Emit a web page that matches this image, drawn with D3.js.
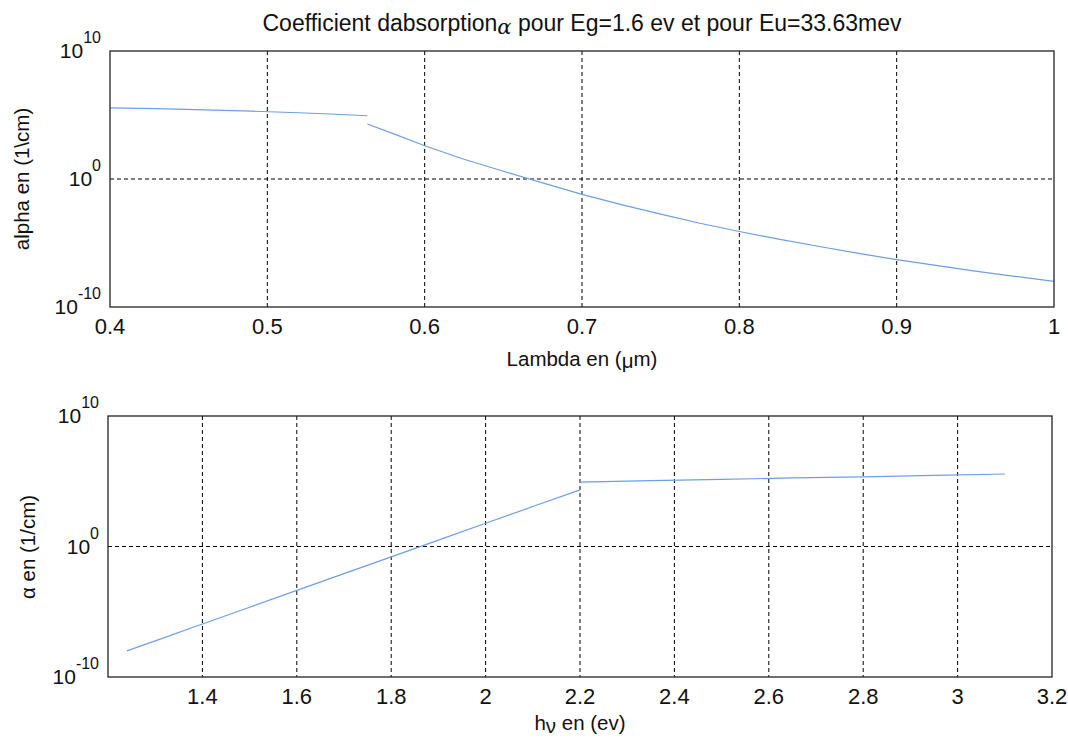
<!DOCTYPE html>
<html><head><meta charset="utf-8">
<script src="https://cdn.jsdelivr.net/npm/d3@7"></script>
<style>body{margin:0;background:#fff}svg{font-family:"Liberation Sans",Arial,sans-serif}</style>
</head><body><svg id="c" width="1068" height="739"></svg>
<script>
// ---- data ----
const lambdaFlat = [0.40, 0.43, 0.46, 0.49, 0.52, 0.54, 0.5636];
const alphaLambdaFlat = [3.6e5, 3.2e5, 2.5e5, 2.0e5, 1.5e5, 1.2e5, 8.7e4];
const lambdaTail = [0.5636, 0.58, 0.60, 0.625, 0.65, 0.675, 0.70, 0.725, 0.75, 0.775, 0.80, 0.825, 0.85, 0.875, 0.90, 0.925, 0.95, 0.975, 1.00];
const alphaLambdaTail = [2.0e4, 3.5e3, 4.0e2, 35, 4.0, 0.5, 6.3e-2, 1.0e-2, 1.8e-3, 3.5e-4, 7.9e-5, 2.0e-5, 5.6e-6, 1.6e-6, 5.0e-7, 1.8e-7, 6.3e-8, 2.5e-8, 1.0e-8];

const energyTail = [1.24, 1.30, 1.40, 1.50, 1.60, 1.70, 1.80, 1.90, 2.00, 2.10, 2.20];
const alphaEnergyTail = [1.0e-8, 5.9e-8, 1.15e-6, 2.2e-5, 4.3e-4, 8.3e-3, 0.16, 3.1, 60, 1.15e3, 2.2e4];
const energyFlat = [2.20, 2.35, 2.50, 2.65, 2.80, 2.95, 3.10];
const alphaEnergyFlat = [8.7e4, 1.1e5, 1.4e5, 1.8e5, 2.2e5, 2.8e5, 3.6e5];

const lambdaTicks = [0.4, 0.5, 0.6, 0.7, 0.8, 0.9, 1];
const lambdaTickLabels = ["0.4", "0.5", "0.6", "0.7", "0.8", "0.9", "1"];
const energyTicks = [1.4, 1.6, 1.8, 2.0, 2.2, 2.4, 2.6, 2.8, 3.0, 3.2];
const energyTickLabels = ["1.4", "1.6", "1.8", "2", "2.2", "2.4", "2.6", "2.8", "3", "3.2"];
const yTicks = [1e-10, 1e0, 1e10];
const yTickExponents = ["-10", "0", "10"];

const titleText = ["Coefficient dabsorption", "α", " pour Eg=1.6 ev et pour Eu=33.63mev"];

// ---- drawing ----
const svg = d3.select("#c");
const lineColor = "#6c9fe4";

function panel(opts) {
  const {left, right, top, bottom, xDomain, xTicks, xLabels, series} = opts;
  const x = d3.scaleLinear().domain(xDomain).range([left, right]);
  const y = d3.scaleLog().domain([1e-10, 1e10]).range([bottom, top]);
  const g = svg.append("g");

  // grid
  g.selectAll("line.vg").data(xTicks.filter(t => x(t) > left + 1 && x(t) < right - 1)).enter()
    .append("line").attr("x1", d => x(d)).attr("x2", d => x(d))
    .attr("y1", top).attr("y2", bottom)
    .attr("stroke", "#000").attr("stroke-width", 1).attr("stroke-dasharray", "4,3");
  g.selectAll("line.hg").data(yTicks.filter(t => y(t) > top + 1 && y(t) < bottom - 1)).enter()
    .append("line").attr("x1", left).attr("x2", right)
    .attr("y1", d => y(d)).attr("y2", d => y(d))
    .attr("stroke", "#000").attr("stroke-width", 1).attr("stroke-dasharray", "4,3");

  // data lines
  const line = d3.line().x(d => x(d[0])).y(d => y(d[1]));
  series.forEach(s => {
    g.append("path").attr("d", line(d3.zip(s[0], s[1])))
      .attr("fill", "none").attr("stroke", lineColor).attr("stroke-width", 1.2);
  });

  // box
  g.append("rect").attr("x", left).attr("y", top).attr("width", right - left).attr("height", bottom - top)
    .attr("fill", "none").attr("stroke", "#222").attr("stroke-width", 1.3);

  // x tick labels
  g.selectAll("text.xt").data(xTicks).enter().append("text")
    .attr("x", d => x(d)).attr("y", bottom + 27).attr("text-anchor", "middle")
    .attr("font-size", 22).attr("fill", "#111")
    .text((d, i) => xLabels[i]);

  // y tick labels (10^n)
  yTicks.forEach((t, i) => {
    const tx = g.append("text").attr("x", left - 9).attr("y", y(t) + 7)
      .attr("text-anchor", "end").attr("font-size", 21).attr("fill", "#111");
    tx.append("tspan").text("10");
    tx.append("tspan").attr("font-size", 16).attr("dy", -15).text(yTickExponents[i]);
  });
  return {x, y};
}

panel({left: 110, right: 1054, top: 51, bottom: 307, xDomain: [0.4, 1],
  xTicks: lambdaTicks, xLabels: lambdaTickLabels,
  series: [[lambdaFlat, alphaLambdaFlat], [lambdaTail, alphaLambdaTail]]});
panel({left: 108, right: 1052, top: 416, bottom: 677, xDomain: [1.2, 3.2],
  xTicks: energyTicks, xLabels: energyTickLabels,
  series: [[energyTail, alphaEnergyTail], [energyFlat, alphaEnergyFlat]]});

// title
const t = svg.append("text").attr("x", 582).attr("y", 31).attr("text-anchor", "middle")
  .attr("font-size", 23).attr("fill", "#111");
t.append("tspan").text(titleText[0]);
t.append("tspan").attr("dy", 3).attr("font-size", 21).attr("font-family", "DejaVu Serif").attr("font-style", "italic").text(titleText[1]);
t.append("tspan").attr("dy", -3).text(titleText[2]);

// x labels
const xl1 = svg.append("text").attr("x", 582).attr("y", 366).attr("text-anchor", "middle")
  .attr("font-size", 20.5).attr("fill", "#111");
xl1.append("tspan").text("Lambda en (");
xl1.append("tspan").attr("dy", 2).text("μ");
xl1.append("tspan").attr("dy", -2).text("m)");

const xl2 = svg.append("text").attr("x", 580).attr("y", 730).attr("text-anchor", "middle")
  .attr("font-size", 20.5).attr("fill", "#111");
xl2.append("tspan").text("h");
xl2.append("tspan").attr("dy", 3).text("ν");
xl2.append("tspan").attr("dy", -3).text(" en (ev)");

// y labels
svg.append("text").attr("transform", "translate(29,179) rotate(-90)")
  .attr("text-anchor", "middle").attr("font-size", 20.5).attr("fill", "#111")
  .text("alpha en (1\\cm)");
svg.append("text").attr("transform", "translate(35,547) rotate(-90)")
  .attr("text-anchor", "middle").attr("font-size", 20.5).attr("fill", "#111")
  .text("α en (1/cm)");
</script></body></html>
